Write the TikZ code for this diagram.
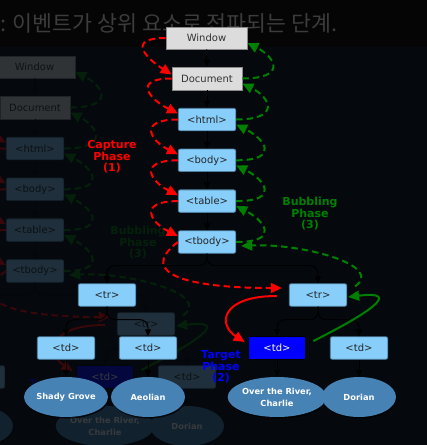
\documentclass[tikz,border=0pt]{standalone}
\usepackage{fontspec}
\setmainfont{DejaVu Sans}
\newfontfamily\krfont{Noto Sans CJK KR}
\usetikzlibrary{arrows.meta,shapes.geometric,shadows}
\definecolor{pagebg}{HTML}{05090D}
\definecolor{topbg}{HTML}{050505}
\definecolor{krgray}{HTML}{3C3C3C}
\definecolor{boxgray}{HTML}{DCDCDC}
\definecolor{boxgrayline}{HTML}{8A8A8A}
\definecolor{elblue}{HTML}{87CEFA}
\definecolor{elline}{HTML}{4F7FA0}
\definecolor{leafblue}{HTML}{4682B4}
\definecolor{capred}{HTML}{FF0000}
\definecolor{bubgreen}{HTML}{008000}
\definecolor{tgtblue}{HTML}{0000FF}
\tikzset{
  basebox/.style={inner sep=0pt, font=\fontsize{10}{12}\selectfont},
  wbox/.style={basebox, draw=boxgrayline, line width=0.8pt, fill=boxgray, text=black!80, minimum height=22pt},
  ebox/.style={basebox, draw=elline, line width=0.8pt, fill=elblue, text=black!85, rounded corners=2pt, minimum width=57.5pt, minimum height=22.5pt},
  tbox/.style={basebox, draw=black, line width=1.2pt, fill=tgtblue, text=white, minimum width=57.5pt, minimum height=22.5pt},
  leaf/.style={ellipse, inner sep=0pt, fill=leafblue, text=white, minimum width=74pt, minimum height=40pt,
    font=\fontsize{8.3}{12}\selectfont\bfseries, align=center,
    drop shadow={shadow xshift=1pt, shadow yshift=-1.5pt, opacity=0.7, fill=black}},
  tree/.style={draw=black, line width=1pt, -{Triangle[length=7pt,width=6pt]}, rounded corners=8pt},
  capdash/.style={draw=capred, line width=2pt, dash pattern=on 6.5pt off 4pt, -{Triangle[length=11pt,width=10pt]}},
  bubdash/.style={draw=bubgreen, line width=2pt, dash pattern=on 6.5pt off 4pt, -{Triangle[length=11pt,width=10pt]}},
  capsolid/.style={draw=capred, line width=2pt, -{Triangle[length=11pt,width=10pt]}},
  bubsolid/.style={draw=bubgreen, line width=2pt, -{Triangle[length=11pt,width=10pt]}},
  phase/.style={inner sep=0pt, align=center, font=\fontsize{11}{11.5}\selectfont\bfseries},
}
\newcommand\drawdiagram{%
  % nodes
  \node[wbox, minimum width=81pt] (win) at (206.5,38) {Window};
  \node[wbox, minimum width=70pt, minimum height=23pt] (doc) at (207,78.5) {Document};
  \node[ebox] (html) at (207,119.5) {<html>};
  \node[ebox] (body) at (207,160.3) {<body>};
  \node[ebox] (table) at (207,201.1) {<table>};
  \node[ebox] (tbody) at (207,242) {<tbody>};
  \node[ebox] (trL) at (107,295) {<tr>};
  \node[ebox] (trR) at (318,295) {<tr>};
  \node[ebox] (tdA) at (66,348) {<td>};
  \node[ebox] (tdB) at (148,348) {<td>};
  \node[tbox] (tdT) at (277,348) {<td>};
  \node[ebox] (tdD) at (359,348) {<td>};
  \node[leaf] (lfA) at (66,397) {Shady Grove};
  \node[leaf] (lfB) at (148,397) {Aeolian};
  \node[leaf] (lfC) at (277,397) {Over the River,\\Charlie};
  \node[leaf] (lfD) at (359,397) {Dorian};
  % tree edges
  \draw[tree] (win.south) -- (doc.north);
  \draw[tree] (doc.south) -- (html.north);
  \draw[tree] (html.south) -- (body.north);
  \draw[tree] (body.south) -- (table.north);
  \draw[tree] (table.south) -- (tbody.north);
  \draw[tree] (tbody.south) -- ++(0,12) -| (trL.north);
  \draw[tree] (tbody.south) -- ++(0,12) -| (trR.north);
  \draw[tree] (trL.south) -- ++(0,13) -| (tdA.north);
  \draw[tree] (trL.south) -- ++(0,13) -| (tdB.north);
  \draw[tree] (trR.south) -- ++(0,13) -| (tdT.north);
  \draw[tree] (trR.south) -- ++(0,13) -| (tdD.north);
  \draw[tree] (tdA.south) -- (lfA.north);
  \draw[tree] (tdB.south) -- (lfB.north);
  \draw[tree] (tdT.south) -- (lfC.north);
  \draw[tree] (tdD.south) -- (lfD.north);
  % capture phase
  \draw[capdash] (win.west) .. controls +(-40,0) and +(-25,-16) .. ([yshift=4pt]doc.west);
  \foreach \a/\b in {doc/html, html/body, body/table, table/tbody}{
    \draw[capdash] (\a.west) .. controls +(-40,0) and +(-28,-14) .. ([yshift=6pt]\b.west);
  }
  \draw[capdash] (tbody.west) .. controls (135,275) and (192,288) .. ([xshift=-7pt,yshift=7pt]trR.west);
  % bubbling phase
  \foreach \a/\b in {doc/win, html/doc, body/html, table/body, tbody/table}{
    \draw[bubdash] (\a.east) .. controls +(45,0) and +(28,14) .. ([yshift=-5pt]\b.east);
  }
  \draw[bubdash] ([xshift=8pt,yshift=-3pt]trR.north east) .. controls (385,265) and (300,243) .. ([xshift=5pt,yshift=-4pt]tbody.east);
  % target phase
  \draw[capsolid] ([xshift=-12pt,yshift=-1pt]trR.west) .. controls (220,296) and (218,325) .. ([xshift=-3pt,yshift=6pt]tdT.west);
  \draw[bubsolid] ([xshift=7pt,yshift=7pt]tdT.east) .. controls (365,315) and (405,290) .. ([xshift=1pt,yshift=-2pt]trR.east);
  % labels
  \node[phase, text=capred] (capL) at (112,157) {Capture\\Phase\\(1)};
  \node[phase, text=bubgreen] (bubL) at (310,214) {Bubbling\\Phase\\(3)};
  \node[phase, text=tgtblue] (tgtL) at (221,367) {Target\\Phase\\(2)};
}
\begin{document}
\begin{tikzpicture}[x=1pt,y=-1pt]
  \useasboundingbox (0,0) rectangle (427,445);
  \clip (0,0) rectangle (427,445);
  \fill[pagebg] (0,0) rectangle (427,445);
  \begin{scope}[shift={(-172,29)}]
    \drawdiagram
  \end{scope}
  \fill[pagebg, opacity=0.8] (0,47) rectangle (427,445);
  \fill[topbg] (0,0) rectangle (427,47);
  \node[anchor=base west, inner sep=0pt, text=krgray, font=\krfont\fontsize{21.7}{26}\selectfont] (kr) at (0,31.5) {: 이벤트가 상위 요소로 전파되는 단계.};
  \drawdiagram
\end{tikzpicture}
\end{document}
